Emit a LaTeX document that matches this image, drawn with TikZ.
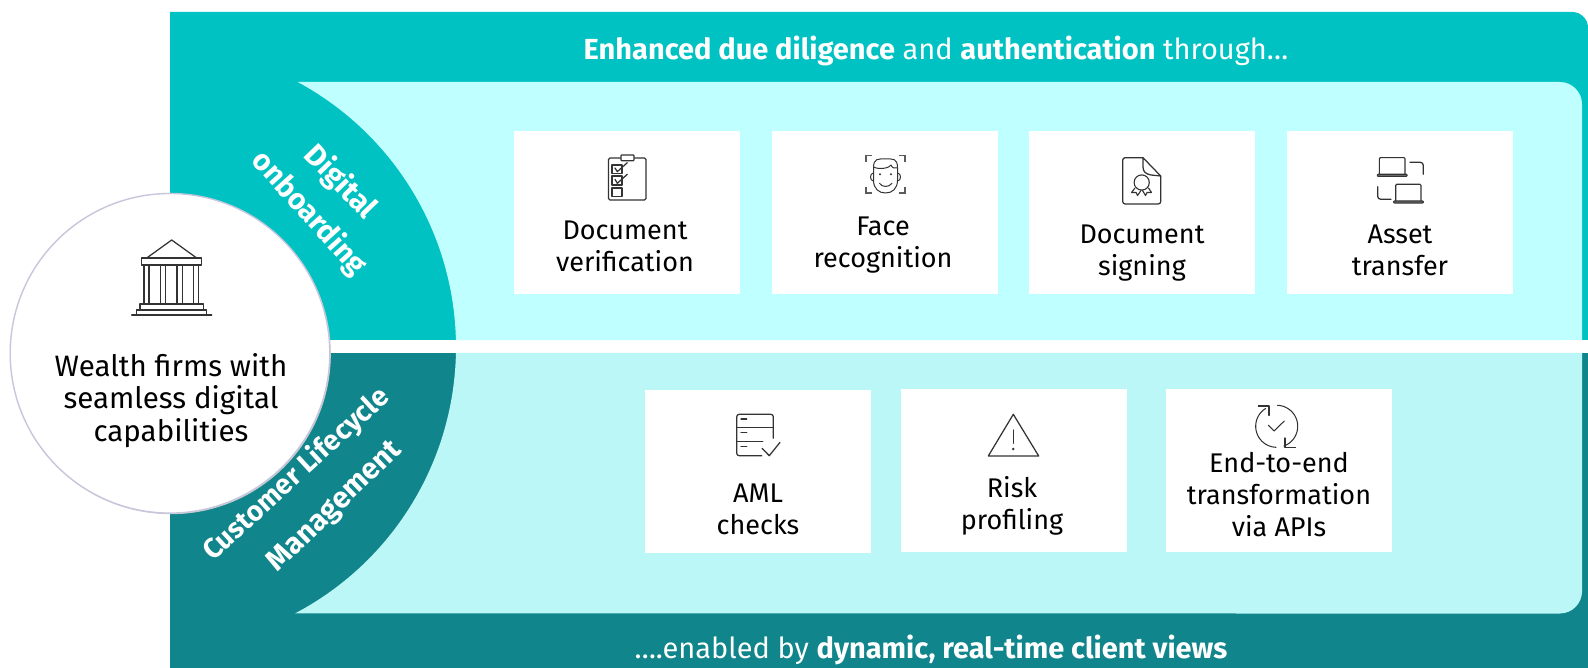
\documentclass[tikz,border=0pt]{standalone}
\usepackage{fontspec}
\setmainfont{Fira Sans}
\definecolor{tealA}{HTML}{00C2C2}
\definecolor{tealB}{HTML}{10858B}
\definecolor{lightA}{HTML}{BFFFFF}
\definecolor{lightB}{HTML}{BCF7F7}
\definecolor{ringc}{HTML}{C6C6DC}
\definecolor{inkc}{HTML}{333333}
\newcommand{\tl}[1]{\begin{tabular}[t]{@{}c@{}}#1\end{tabular}}
\tikzset{
  card/.style={fill=white,draw=none,minimum width=226pt,minimum height=163pt,inner sep=0pt,outer sep=0pt},
  lab/.style={anchor=base,inner sep=0pt,text=black,font=\fontsize{27}{32}\selectfont},
  hublab/.style={anchor=base,inner sep=0pt,text=black,font=\fontsize{29.5}{32}\selectfont},
  head/.style={anchor=base,inner sep=0pt,text=white,font=\fontsize{29}{32}\selectfont},
  side/.style={inner sep=0pt,text=white,align=center,font=\bfseries\fontsize{30}{36}\selectfont},
  ic/.style={draw=inkc,line width=1.25pt,line join=round,line cap=round,fill=none},
  icg/.style={draw=inkc!80,line width=1.25pt,line cap=butt}
}
\begin{document}
\begin{tikzpicture}[x=1pt,y=-1pt]
\useasboundingbox (0,0) rectangle (1588,668);
\fill[white] (0,0) rectangle (1588,668);
% bands
\fill[tealA] (170,340) -- (170,12) -- (1572,12) .. controls (1581,12) and (1588,19) .. (1588,28) -- (1588,340) -- cycle;
\fill[tealB] (170,353) rectangle (1588,668);
% light panels
\fill[lightA] plot[domain=-61.7:-1.33,samples=70] ({155+301*cos(\x)},{347+301*sin(\x)})
   -- (1582,340) -- (1582,104) .. controls (1582,92) and (1572,82) .. (1560,82) -- cycle;
\fill[lightB] plot[domain=1.14:62.3,samples=70] ({155+301*cos(\x)},{347+301*sin(\x)})
   -- (1560,613.5) .. controls (1572,613.5) and (1582,603.5) .. (1582,591.5) -- (1582,353) -- cycle;
% headings
\node[head] (toph) at (936,59.5) {\textbf{Enhanced due diligence} and \textbf{authentication} through…};
\node[head] (both) at (931,658) {….enabled by \textbf{dynamic, real-time client views}};
% side labels
\node[side,rotate=-46] (sa) at (340,182) {Digital};
\node[side,rotate=-48,font=\bfseries\fontsize{29.5}{36}\selectfont] (sa2) at (309,213.5) {onboarding};
\node[side,rotate=42.5,font=\bfseries\fontsize{28}{36}\selectfont] (sb) at (296.5,474.5) {Customer Lifecycle};
\node[side,rotate=44,font=\bfseries\fontsize{29.5}{36}\selectfont] (sb2) at (335.5,507) {Management};
% centre circle
\fill[inkc!25] (170.8,354.2) circle[radius=160pt];
\node[circle,fill=white,draw=ringc,line width=1.4pt,minimum size=319.6pt,inner sep=0pt] (hub) at (170,353.3) {};
\node[hublab] (hubt) at (171,376) {\tl{Wealth firms with\\seamless digital\\capabilities}};
% bank icon
\draw[ic] (146.7,258) -- (171.7,240) -- (196.7,258);
\draw[ic] (141.7,258) rectangle (201.7,265);
\foreach \a/\b in {144/149,160.3/165.7,177/182.3,193.3/198.7}{\draw[ic] (\a,265) -- (\a,304) (\b,265) -- (\b,304);}
\draw[ic] (140,310) -- (140,304) -- (203.3,304) -- (203.3,310);
\draw[ic] (136.7,315) -- (136.7,310) -- (206.7,310) -- (206.7,315);
\draw[ic] (131.7,315) -- (211.7,315);
% cards
\node[card,minimum height=163pt] (c1) at (627,212.5) {};
\node[card] (c2) at (885,212.5) {};
\node[card] (c3) at (1142,212.5) {};
\node[card] (c4) at (1400,212.5) {};
\node[card] (c5) at (758,471.5) {};
\node[card] (c6) at (1014,470.5) {};
\node[card] (c7) at (1279,470.5) {};
\node[lab] (t1) at (625,239.5) {\tl{Document\\verification}};
\node[lab] (t2) at (883,236) {\tl{Face\\recognition}};
\node[lab] (t3) at (1142,243.5) {\tl{Document\\signing}};
\node[lab] (t4) at (1400,243.5) {\tl{Asset\\transfer}};
\node[lab] (t5) at (758,502.5) {\tl{AML\\checks}};
\node[lab] (t6) at (1012,497.5) {\tl{Risk\\profiling}};
\node[lab] (t7) at (1279,472) {\tl{End-to-end\\transformation\\via APIs}};
% clipboard
\draw[ic,rounded corners=1.5pt] (608.5,158) rectangle (646,200);
\draw[ic,fill=white,rounded corners=.8pt] (621,155) rectangle (634,160.7);
\draw[ic] (612,165) rectangle (622,173.3);
\draw[ic] (612,176) rectangle (622,185);
\draw[ic] (612,188) rectangle (622,196.7);
\draw[ic] (615,168) -- (617.3,171.7) -- (627.3,162.7);
\draw[ic] (615,179.3) -- (617.3,183.3) -- (627.3,174.3);
% face
\draw[icg] (866,162) -- (866,155.5) -- (872,155.5) (899,155.5) -- (905,155.5) -- (905,162)
 (866,187) -- (866,193) -- (872,193) (899,193) -- (905,193) -- (905,187);
\draw[ic,line width=1pt] (873.5,168) .. controls (873.5,158) and (878,159) .. (885.5,159) .. controls (893,159) and (897.5,158) .. (897.5,168)
  -- (897.5,180) .. controls (897.5,189) and (892,193) .. (885.5,193) .. controls (879,193) and (873.5,189) .. (873.5,180) -- cycle;
\draw[ic,line width=1pt] (873.5,167) .. controls (879,170) and (890,168) .. (891,165) .. controls (892,168) and (895,169) .. (897.5,168);
\draw[ic,line width=1pt] (873.5,173) .. controls (869.5,173) and (869.5,181) .. (873.5,181) (897.5,173) .. controls (901.5,173) and (901.5,181) .. (897.5,181);
\fill[inkc] (880,174.3) circle[radius=1.1pt] (891,174.3) circle[radius=1.1pt];
\draw[ic,line width=1pt] (879.5,183.3) .. controls (882,187.5) and (889,187.5) .. (892,183.3);
% document signing
\draw[ic,rounded corners=2.5pt] (1143,157.7) -- (1122.7,157.7) -- (1122.7,204) -- (1160.7,204) -- (1160.7,176);
\draw[ic] (1143,157.7) -- (1160.7,176) -- (1151,175) .. controls (1146,174) and (1143,172) .. (1143,167) -- cycle;
\draw[ic,line width=1.1pt] (1141.7,182.5) circle[radius=7.6pt];
\draw[ic,line width=1.1pt] (1135,188) -- (1131.5,192.5) -- (1136,192.5) -- (1137.5,195.5) -- (1141,190.5);
\draw[ic,line width=1.1pt] (1148.5,188) -- (1151.5,192.5) -- (1147,192.5) -- (1145.5,195.5) -- (1142.5,190.5);
% asset transfer
\draw[ic,line width=1.1pt,rounded corners=1pt] (1379.3,174.3) -- (1379.3,157.7) -- (1405,157.7) -- (1405,174.3);
\draw[ic,line width=1.1pt,fill=inkc!60,rounded corners=.7pt] (1377.3,174.3) rectangle (1407,176.3);
\draw[ic,line width=1.1pt,rounded corners=1pt] (1395.7,201) -- (1395.7,184.3) -- (1421,184.3) -- (1421,201);
\draw[ic,line width=1.1pt,fill=inkc!60,rounded corners=.7pt] (1393.7,201) rectangle (1423.3,203);
\draw[ic,rounded corners=3pt] (1410,162.3) -- (1423.3,162.3) -- (1423.3,174.3);
\draw[ic,rounded corners=3pt] (1377.7,186.7) -- (1377.7,199.3) -- (1391,199.3);
% AML
\draw[ic,rounded corners=2.5pt] (761.7,455.7) -- (736.7,455.7) -- (736.7,414.3) -- (773.3,414.3) -- (773.3,438.3);
\draw[ic] (736.7,427.7) -- (773.3,427.7);
\draw[ic] (736.7,441.7) -- (762.7,441.7);
\draw[ic] (741,419) -- (746.7,419) (741,432.7) -- (746.7,432.7) (741,446.3) -- (746.7,446.3);
\draw[ic] (762,448.3) -- (769.3,455.7) -- (780,442.3);
% risk
\draw[ic] (1013.3,414.3) -- (1038.7,456) -- (988.3,456) -- cycle;
\draw[ic] (1013.3,430) -- (1013.3,443.3);
\fill[inkc] (1013.3,449) circle[radius=1.4pt];
% cycle
\draw[ic,line width=1.05pt] plot[domain=-88:70,samples=40] ({1276.7+21*cos(\x)},{426.3+21*sin(\x)});
\draw[ic,line width=1.05pt] plot[domain=92:238,samples=40] ({1276.7+21*cos(\x)},{426.3+21*sin(\x)});
\draw[ic,line width=1.05pt] (1258.3,406) -- (1269,406) -- (1269,415.4);
\draw[ic,line width=1.05pt] (1285,438) -- (1285,447.4) -- (1295.7,447.4);
\draw[ic,line width=1.05pt] (1268.3,425.2) -- (1274,431) -- (1284.3,421);
\end{tikzpicture}
\end{document}
